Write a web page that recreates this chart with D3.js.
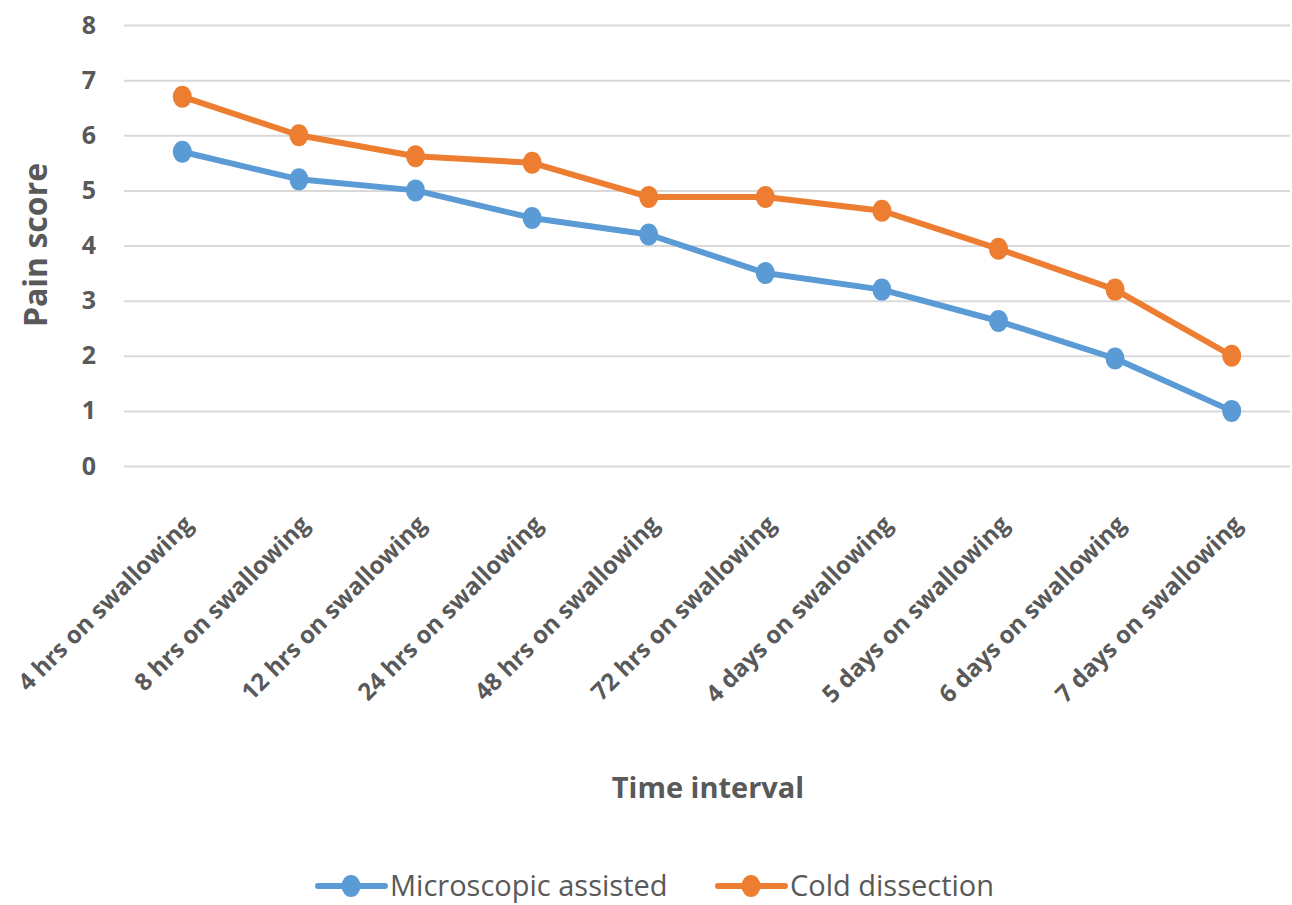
<!DOCTYPE html>
<html>
<head>
<meta charset="utf-8">
<script src="https://cdn.jsdelivr.net/npm/d3@7"></script>
<style>
  html, body { margin: 0; padding: 0; background: #fff; }
  #chart { width: 1292px; height: 905px; }
</style>
</head>
<body>
<div id="chart"></div>
<script>
// ── Data ─────────────────────────────────────
const CATEGORIES = [
  "4 hrs on swallowing", "8 hrs on swallowing", "12 hrs on swallowing",
  "24 hrs on swallowing", "48 hrs on swallowing", "72 hrs on swallowing",
  "4 days on swallowing", "5 days on swallowing", "6 days on swallowing",
  "7 days on swallowing"
];
const MICROSCOPIC = [5.7, 5.2, 5.0, 4.5, 4.2, 3.5, 3.2, 2.63, 1.95, 1.0];
const COLD        = [6.7, 6.0, 5.62, 5.5, 4.88, 4.88, 4.63, 3.94, 3.2, 2.0];
const Y_TICKS     = [0, 1, 2, 3, 4, 5, 6, 7, 8];
const SERIES_NAMES = ["Microscopic assisted", "Cold dissection"];

const COLORS = { micro: "#5B9BD5", cold: "#ED7D31" };
const FONT = "'Open Sans',sans-serif";
const TEXT = "#595959";

const W = 1292, H = 905;
const margin = { top: 25, right: 2, bottom: 439, left: 124 };
const width  = W - margin.left - margin.right;
const height = H - margin.top - margin.bottom;

const svg = d3.select("#chart").append("svg").attr("width", W).attr("height", H);
const g = svg.append("g").attr("transform", `translate(${margin.left},${margin.top})`);

const x = d3.scaleBand().domain(CATEGORIES).range([0, width]);
const y = d3.scaleLinear().domain([0, 8]).range([height, 0]);
const cx = d => x(d) + x.bandwidth() / 2;

// Grid
g.append("g").call(d3.axisLeft(y).tickValues(Y_TICKS).tickSize(-width).tickFormat(""))
  .call(gEl => {
    gEl.select(".domain").remove();
    gEl.selectAll(".tick line").attr("stroke", "#D9D9D9").attr("stroke-width", 2);
  });

// Y axis labels
const yAxis = g.append("g").call(d3.axisLeft(y).tickValues(Y_TICKS).tickSize(0).tickPadding(28));
yAxis.select(".domain").remove();
yAxis.selectAll("text").attr("font-family", FONT).attr("font-size", "25px")
  .attr("font-weight", "bold").attr("fill", TEXT);

// X axis labels
const xAxis = g.append("g").attr("transform", `translate(0,${height})`)
  .call(d3.axisBottom(x).tickSize(0));
xAxis.select(".domain").remove();
xAxis.selectAll("text")
  .attr("font-family", FONT).attr("font-size", "24px").attr("font-weight", "bold")
  .attr("fill", TEXT).attr("text-anchor", "end")
  .attr("dy", 0).attr("y", 0)
  .attr("transform", "translate(12,60) rotate(-45)");

// Axis titles
svg.append("text").attr("x", 708).attr("y", 798)
  .attr("text-anchor", "middle").attr("font-family", FONT)
  .attr("font-size", "29px").attr("font-weight", "bold").attr("fill", TEXT)
  .text("Time interval");
svg.append("text").attr("transform", "translate(47,245) rotate(-90)")
  .attr("text-anchor", "middle").attr("font-family", FONT)
  .attr("font-size", "32px").attr("font-weight", "bold").attr("fill", TEXT)
  .text("Pain score");

// Lines + markers
const series = [
  { name: SERIES_NAMES[0], values: MICROSCOPIC, color: COLORS.micro },
  { name: SERIES_NAMES[1], values: COLD, color: COLORS.cold }
];
const line = d3.line().x((d, i) => cx(CATEGORIES[i])).y(d => y(d));

series.forEach(s => {
  g.append("path").datum(s.values).attr("d", line)
    .attr("fill", "none").attr("stroke", s.color).attr("stroke-width", 6)
    .attr("stroke-linejoin", "round");
  g.selectAll(null).data(s.values).join("ellipse")
    .attr("cx", (d, i) => cx(CATEGORIES[i])).attr("cy", d => y(d))
    .attr("rx", 9.5).attr("ry", 11).attr("fill", s.color);
});

// Legend
const legendItems = [
  { name: SERIES_NAMES[0], color: COLORS.micro, x: 318 },
  { name: SERIES_NAMES[1], color: COLORS.cold, x: 718 }
];
const lg = svg.append("g").attr("transform", "translate(0,886)");
legendItems.forEach(it => {
  lg.append("line").attr("x1", it.x).attr("x2", it.x + 67).attr("y1", 0).attr("y2", 0)
    .attr("stroke", it.color).attr("stroke-width", 6).attr("stroke-linecap", "round");
  lg.append("ellipse").attr("cx", it.x + 33).attr("cy", 0).attr("rx", 9.5).attr("ry", 11)
    .attr("fill", it.color);
  lg.append("text").attr("x", it.x + 72).attr("y", 0).attr("dy", "0.35em")
    .attr("font-family", FONT).attr("font-size", "29px").attr("fill", TEXT)
    .text(it.name);
});
</script>
</body>
</html>
